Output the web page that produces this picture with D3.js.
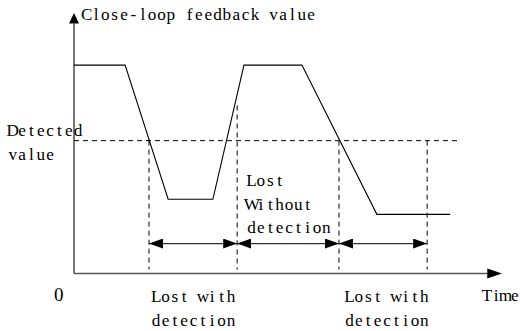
<!DOCTYPE html>
<html><head><meta charset="utf-8">
<script src="https://cdn.jsdelivr.net/npm/d3@7"></script>
<style>body{margin:0;background:#fff}svg{display:block}</style>
</head><body>
<script>
// ---- data ----
const signalTime  = [0, 12, 22.1, 32.6, 39.9, 53.5, 71.1, 88.3];
const signalValue = [80, 80, 28.5, 28.5, 80, 80, 22.7, 22.7];
const threshold = 51;
const thresholdEnd = 90.8;
const markerTime = [17.6, 38.3, 62.2, 82.9];
const markerTop  = [51, 64.5, 51, 51];
const spanStart = [17.6, 38.3, 62.2];
const spanEnd   = [38.3, 62.2, 82.9];
const spanLevel = 11.5;
const yTitle = "Close-loop feedback value";
const xTitle = "Time";
const originLabel = "0";
const thresholdLabel = ["Detected", "value"];
const spanLabels = [
  {t: 17.6, lines: ["Lost with", "detection"], below: true},
  {t: 40.0, lines: ["Lost", "Without", "detection"], below: false},
  {t: 63.0, lines: ["Lost with", "detection"], below: true}
];

const W = 520, H = 331;
const svg = d3.select("body").append("svg").attr("width", W).attr("height", H);
const x = d3.scaleLinear().domain([0, 100]).range([74, 500]);
const y = d3.scaleLinear().domain([0, 100]).range([273.5, 13]);

const defs = svg.append("defs");
defs.append("marker").attr("id", "ah").attr("viewBox", "0 0 14 10")
  .attr("refX", 14).attr("refY", 5).attr("markerWidth", 14).attr("markerHeight", 10)
  .attr("markerUnits", "userSpaceOnUse").attr("orient", "auto-start-reverse")
  .append("path").attr("d", "M0,0L14,5L0,10Z").attr("fill", "#000");

const serif = "'Liberation Serif', 'DejaVu Serif', serif";
const fs = 17.2;
const cell = 9.35;

// axes
svg.append("line").attr("x1", x(0)).attr("x2", x(97)).attr("y1", y(0)).attr("y2", y(0))
  .attr("stroke", "#555").attr("stroke-width", 1.6);
svg.append("path").attr("d", `M${x(97)},${y(0)-5}L${x(100)+2},${y(0)}L${x(97)},${y(0)+5}Z`).attr("fill", "#000");
svg.append("line").attr("x1", x(0)).attr("x2", x(0)).attr("y1", y(0)).attr("y2", y(96))
  .attr("stroke", "#555").attr("stroke-width", 1.6);
svg.append("path").attr("d", `M${x(0)-5},${y(96)}L${x(0)},${y(100)}L${x(0)+5},${y(96)}Z`).attr("fill", "#000");

// threshold
svg.append("line").attr("x1", x(0)).attr("x2", x(thresholdEnd)).attr("y1", y(threshold)).attr("y2", y(threshold))
  .attr("stroke", "#000").attr("stroke-width", 1).attr("stroke-dasharray", "5,4");

// vertical markers
svg.selectAll(".vm").data(markerTime).join("line").attr("class", "vm")
  .attr("x1", d => x(d)).attr("x2", d => x(d))
  .attr("y1", (d, i) => y(markerTop[i])).attr("y2", y(1.5))
  .attr("stroke", "#000").attr("stroke-width", 1).attr("stroke-dasharray", "5,4");

// signal
const pts = signalTime.map((t, i) => [t, signalValue[i]]);
svg.append("path").datum(pts)
  .attr("d", d3.line().x(d => x(d[0])).y(d => y(d[1])))
  .attr("fill", "none").attr("stroke", "#000").attr("stroke-width", 1.1);

// spans
svg.selectAll(".sp").data(spanStart).join("line").attr("class", "sp")
  .attr("x1", d => x(d)).attr("x2", (d, i) => x(spanEnd[i]))
  .attr("y1", y(spanLevel)).attr("y2", y(spanLevel))
  .attr("stroke", "#333").attr("stroke-width", 1.3)
  .attr("marker-start", "url(#ah)").attr("marker-end", "url(#ah)");

// texts: serif glyphs laid out on a fixed-width grid (like SimSun Latin)
const monoText = (s, tx, ty) => {
  const t = svg.append("text").attr("x", tx).attr("y", ty)
    .attr("font-family", serif).attr("font-size", fs).attr("fill", "#000").text(s);
  const xs = [];
  for (let i = 0; i < s.length; i++) {
    let w = 0;
    try { w = t.node().getSubStringLength(i, 1); } catch (e) { w = cell * 0.6; }
    xs.push((tx + i * cell + (cell - w) / 2).toFixed(2));
  }
  t.attr("x", xs.join(" "));
  return t;
};

monoText(yTitle, 82, 20);
monoText(thresholdLabel[0], 8, 136);
monoText(thresholdLabel[1], 8, 160);
svg.append("text").attr("x", 54).attr("y", 301).attr("font-family", serif)
  .attr("font-size", 19).attr("fill", "#000").text(originLabel);
monoText(xTitle, 482, 301);
spanLabels.forEach(s => {
  const baseY = s.below ? 302 : 186;
  s.lines.forEach((l, i) => monoText(l, x(s.t) + 2.5, baseY + i * 23.5));
});
</script>
</body></html>
